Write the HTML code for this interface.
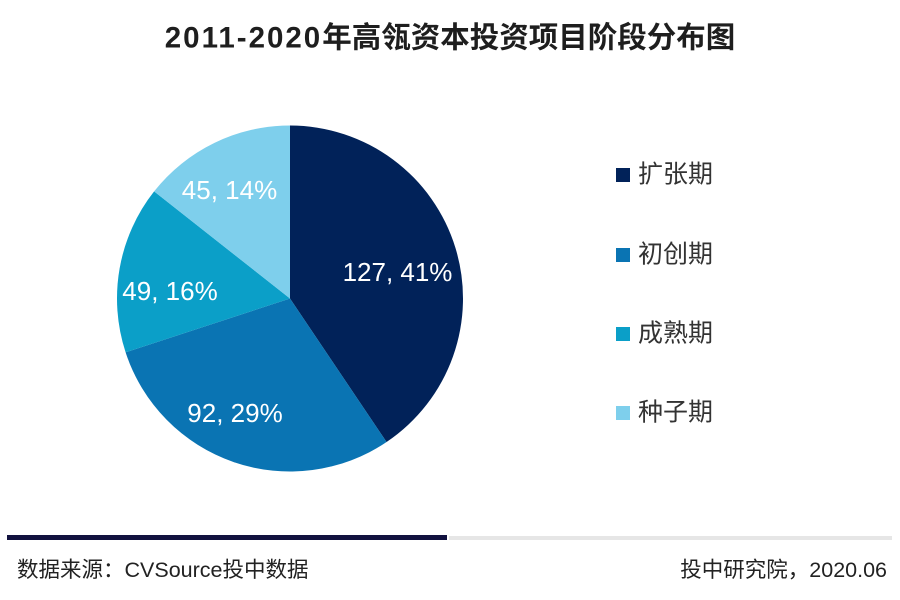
<!DOCTYPE html>
<html>
<head>
<meta charset="utf-8">
<style>
  html, body { margin: 0; padding: 0; background: #ffffff; }
  svg { display: block; }
  text { font-family: "Liberation Sans", "Noto Sans CJK SC", sans-serif; }
</style>
</head>
<body>
<svg width="900" height="600" viewBox="0 0 900 600" xmlns="http://www.w3.org/2000/svg">
  <rect x="0" y="0" width="900" height="600" fill="#ffffff"/>

  <!-- Title -->
  <text x="450" y="47.5" text-anchor="middle" font-size="29.5" font-weight="bold" fill="#1e1e1e"><tspan letter-spacing="2">2011-2020</tspan>年高瓴资本投资项目阶段分布图</text>

  <!-- Pie -->
  <path d="M290,298.5 L290,125.5 A173,173 0 0 1 386.57,442.04 Z" fill="#012259"/>
  <path d="M290,298.5 L386.57,442.04 A173,173 0 0 1 125.58,352.29 Z" fill="#0a74b3"/>
  <path d="M290,298.5 L125.58,352.29 A173,173 0 0 1 154.11,191.41 Z" fill="#0b9fc8"/>
  <path d="M290,298.5 L154.11,191.41 A173,173 0 0 1 290,125.5 Z" fill="#7ecfec"/>

  <!-- Pie labels -->
  <g font-size="26" fill="#ffffff" text-anchor="middle">
    <text x="397.5" y="281">127, 41%</text>
    <text x="235" y="422">92, 29%</text>
    <text x="170" y="300">49, 16%</text>
    <text x="229.5" y="199">45, 14%</text>
  </g>

  <!-- Legend -->
  <rect x="616" y="168" width="14" height="14" fill="#012259"/>
  <text x="638" y="182.5" font-size="25" fill="#333333">扩张期</text>
  <rect x="616" y="248" width="14" height="14" fill="#0a74b3"/>
  <text x="638" y="262.5" font-size="25" fill="#333333">初创期</text>
  <rect x="616" y="327" width="14" height="14" fill="#0b9fc8"/>
  <text x="638" y="341.5" font-size="25" fill="#333333">成熟期</text>
  <rect x="616" y="406" width="14" height="14" fill="#7ecfec"/>
  <text x="638" y="420.5" font-size="25" fill="#333333">种子期</text>

  <!-- Footer bars -->
  <rect x="7" y="535" width="440" height="5" fill="#12123f"/>
  <rect x="449" y="536" width="443" height="4" fill="#e6e6e6"/>

  <!-- Footer text -->
  <text x="17" y="577" font-size="21.5" fill="#222222">数据来源：CVSource投中数据</text>
  <text x="887" y="577" font-size="21.5" fill="#222222" text-anchor="end">投中研究院，2020.06</text>
</svg>
</body>
</html>
